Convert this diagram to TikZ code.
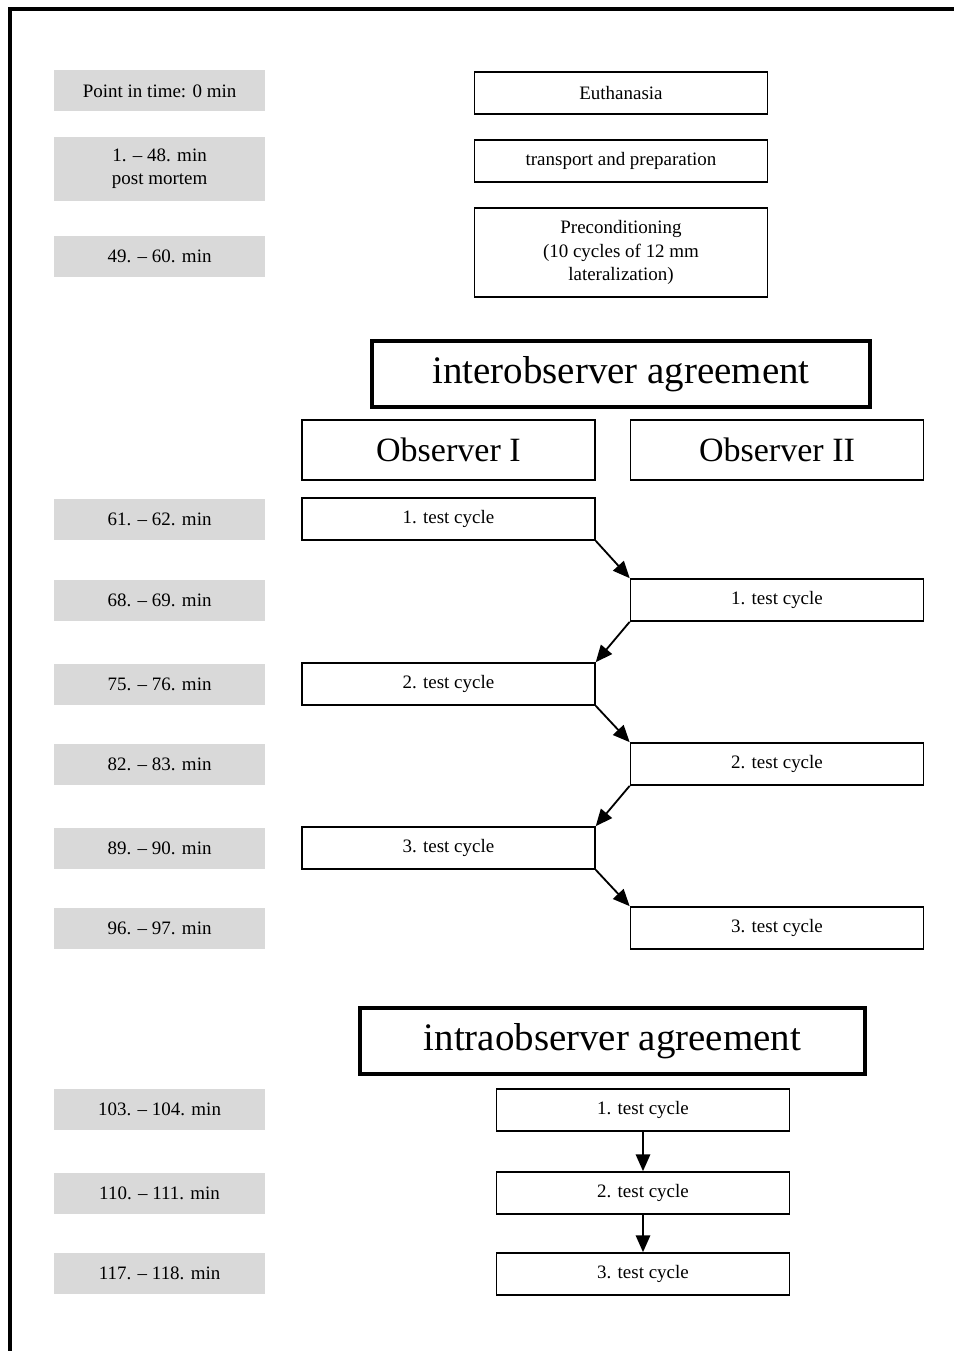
\documentclass[tikz,border=0pt]{standalone}
\usepackage{fontspec}
\setmainfont{Liberation Serif}
\usetikzlibrary{arrows.meta}

\begin{document}
\begin{tikzpicture}[
	timebox/.style={fill=black!15, minimum width=5.275cm, minimum height=1.025cm, align=center, inner sep=0pt, font=\fontsize{13.5}{16.5}\selectfont},
	stepbox/.style={draw, line width=1.2pt, minimum width=7.325cm, minimum height=1.05cm, align=center, inner sep=0pt, font=\fontsize{13.5}{16.5}\selectfont},
	headbox/.style={draw, line width=2.6pt, minimum height=1.65cm, inner sep=0pt, font=\fontsize{27.7}{30}\selectfont},
	obsbox/.style={draw, line width=1.2pt, minimum width=7.325cm, minimum height=1.5cm, inner sep=0pt, font=\fontsize{24.2}{28}\selectfont},
	arr/.style={line width=1.3pt, -{Triangle[length=0.42cm, width=0.36cm]}}]
	\useasboundingbox (0,0) rectangle (23.85,-33.775);
	\draw[line width=2.6pt] (0.25,-33.775)--(0.25,-0.225)--(23.85,-0.225);
	% time column
	\node[timebox] (t0) at (3.99,-2.275) {Point in time: 0 min};
	\node[timebox, minimum height=1.6cm] (t1) at (3.99,-4.225) {1. -- 48. min\\post mortem};
	\node[timebox] (t2) at (3.99,-6.4) {49. -- 60. min};
	\node[timebox] (t3) at (3.99,-12.975) {61. -- 62. min};
	\node[timebox] (t4) at (3.99,-15.0) {68. -- 69. min};
	\node[timebox] (t5) at (3.99,-17.1) {75. -- 76. min};
	\node[timebox] (t6) at (3.99,-19.1) {82. -- 83. min};
	\node[timebox] (t7) at (3.99,-21.2) {89. -- 90. min};
	\node[timebox] (t8) at (3.99,-23.2) {96. -- 97. min};
	\node[timebox] (t9) at (3.99,-27.74) {103. -- 104. min};
	\node[timebox] (t10) at (3.99,-29.84) {110. -- 111. min};
	\node[timebox] (t11) at (3.99,-31.84) {117. -- 118. min};
	% preparation
	\node[stepbox] (euth) at (15.525,-2.325) {Euthanasia};
	\node[stepbox] (prep) at (15.525,-4.025) {transport and preparation};
	\node[stepbox, minimum height=2.225cm] (precond) at (15.525,-6.3125) {Preconditioning\\(10 cycles of 12 mm\\lateralization)};
	% interobserver
	\node[headbox, minimum width=12.45cm] (inter) at (15.525,-9.35) {interobserver agreement};
	\node[obsbox] (obsA) at (11.21,-11.25) {Observer I};
	\node[obsbox] (obsB) at (19.425,-11.25) {Observer II};
	\node[stepbox] (a1) at (11.21,-12.975) {1. test cycle};
	\node[stepbox] (b1) at (19.425,-15.0) {1. test cycle};
	\node[stepbox] (a2) at (11.21,-17.1) {2. test cycle};
	\node[stepbox] (b2) at (19.425,-19.1) {2. test cycle};
	\node[stepbox] (a3) at (11.21,-21.2) {3. test cycle};
	\node[stepbox] (b3) at (19.425,-23.2) {3. test cycle};
	\draw[arr] (a1.south east)--(b1.north west);
	\draw[arr] (b1.south west)--(a2.north east);
	\draw[arr] (a2.south east)--(b2.north west);
	\draw[arr] (b2.south west)--(a3.north east);
	\draw[arr] (a3.south east)--(b3.north west);
	% intraobserver
	\node[headbox, minimum width=12.625cm] (intra) at (15.31,-26.025) {intraobserver agreement};
	\node[stepbox] (c1) at (16.075,-27.75) {1. test cycle};
	\node[stepbox] (c2) at (16.075,-29.825) {2. test cycle};
	\node[stepbox] (c3) at (16.075,-31.85) {3. test cycle};
	\draw[arr] (c1)--(c2);
	\draw[arr] (c2)--(c3);
\end{tikzpicture}
\end{document}
